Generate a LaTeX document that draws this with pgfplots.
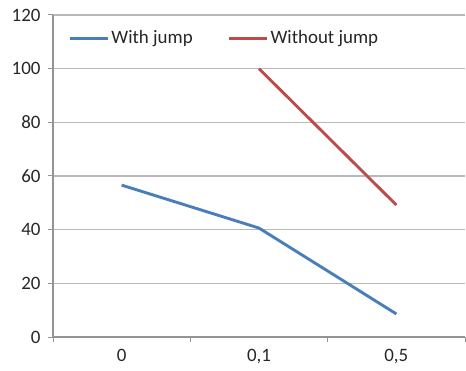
\documentclass[border=0pt]{standalone}
\usepackage{pgfplots}
\pgfplotsset{compat=1.18}
\usepackage{fontspec}
\setmainfont{Carlito}
\definecolor{xlblue}{RGB}{74,126,187}
\definecolor{xlred}{RGB}{190,75,72}
\definecolor{gridgray}{RGB}{185,185,185}
\begin{document}
\fontsize{19}{22}\selectfont
\begin{tikzpicture}
\begin{axis}[
  scale only axis,
  width=412bp, height=322bp,
  xmin=-0.5, xmax=2.5,
  ymin=0, ymax=120,
  ytick={0,20,...,120},
  xtick={0,1,2},
  xticklabels={0,{0,1},{0,5}},
  minor xtick={-0.5,0.5,1.5,2.5},
  major x tick style={draw=none},
  minor x tick style={gridgray!80!black, line width=1pt},
  y tick style={gridgray!80!black, line width=1pt},
  tick align=outside,
  major tick length=5bp,
  minor tick length=5bp,
  axis x line*=bottom,
  axis y line*=left,
  axis line style={gridgray!80!black, line width=1.1pt, -},
  ymajorgrids,
  grid style={gridgray, line width=1.1pt},
  /pgf/number format/assume math mode=true,
  tick label style={font=\fontsize{19}{22}\selectfont, text=black!85},
  yticklabel style={xshift=-1bp},
  xticklabel style={yshift=-1bp},
  legend columns=2,
  legend style={draw=none, fill=none, at={(rel axis cs:0.03,0.965)}, anchor=north west,
    font=\fontsize{19}{22}\selectfont, text=black!85,
    /tikz/every even column/.append style={column sep=33bp}},
  legend image code/.code={\draw[#1] (0bp,0bp) -- (38bp,0bp);},
]
\addplot[xlblue, line width=2.9pt] coordinates {(0,56.6) (1,40.6) (2,8.6)};
\addlegendentry{With jump}
\addplot[xlred, line width=2.9pt] coordinates {(1,100) (2,49.2)};
\addlegendentry{Without jump}
\end{axis}
\path (current axis.south west) ++(-53bp,-29bp) rectangle ++(466bp,366bp);
\end{tikzpicture}
\end{document}
